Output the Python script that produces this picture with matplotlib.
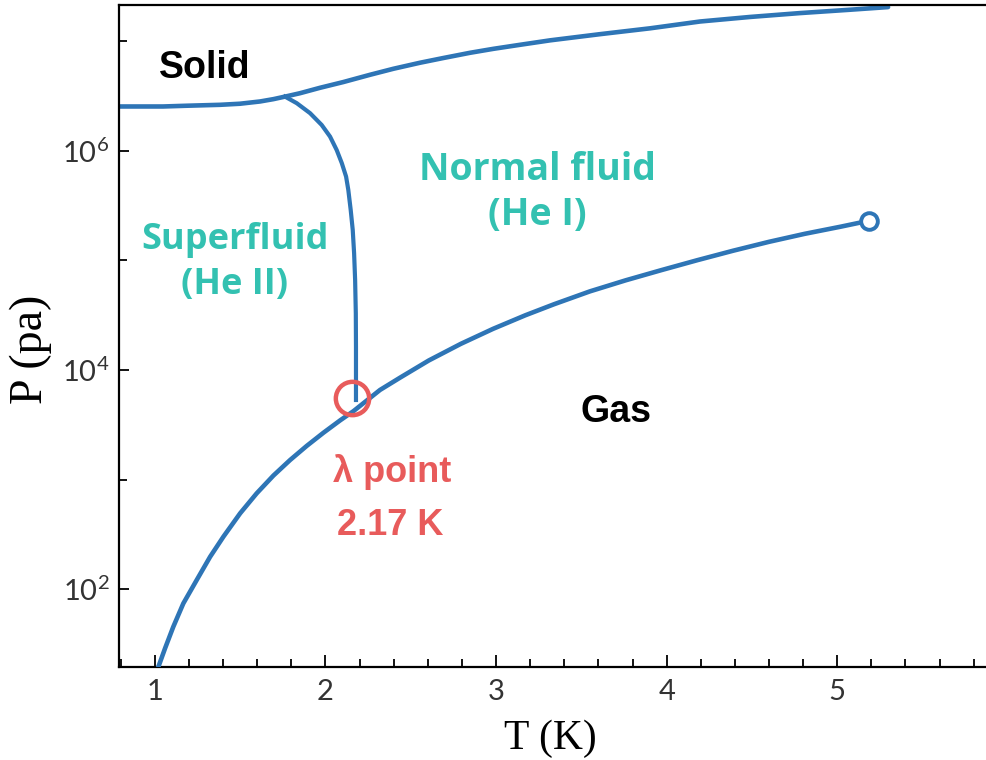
import matplotlib
matplotlib.use('Agg')
import matplotlib.pyplot as plt
from matplotlib.ticker import FixedLocator, NullFormatter, MultipleLocator

# Helium-4 phase diagram data
# melting curve (solid / liquid boundary)
melt_T = [0.797, 0.914, 1.048, 1.187, 1.382, 1.499, 1.617, 1.695, 1.763, 1.851, 1.968, 2.105, 2.261,
          2.398, 2.554, 2.691, 2.848, 2.984, 3.141, 3.317, 3.610, 3.903, 4.196, 4.489, 4.782, 5.075, 5.298]
melt_P = [2.52e6, 2.52e6, 2.52e6, 2.56e6, 2.61e6, 2.67e6, 2.80e6, 2.94e6, 3.10e6, 3.33e6, 3.73e6, 4.21e6, 4.90e6,
          5.56e6, 6.31e6, 6.97e6, 7.78e6, 8.45e6, 9.20e6, 1.01e7, 1.15e7, 1.30e7, 1.50e7, 1.65e7, 1.79e7, 1.92e7, 2.03e7]

# lambda line (He I / He II boundary)
lambda_T = [1.763, 1.832, 1.910, 1.978, 2.027, 2.066, 2.096, 2.121, 2.134, 2.148, 2.160, 2.168, 2.174, 2.178, 2.179, 2.179]
lambda_P = [3.10e6, 2.70e6, 2.19e6, 1.71e6, 1.34e6, 1.01e6, 7.67e5, 5.79e5, 4.38e5, 2.88e5, 1.89e5, 1.16e5,
            6.62e4, 3.29e4, 1.63e4, 5.32e3]

# saturated vapour pressure curve
vap_T = [1.021, 1.060, 1.108, 1.167, 1.246, 1.324, 1.402, 1.500, 1.597, 1.695, 1.793, 1.890, 1.988, 2.086,
         2.164, 2.320, 2.440, 2.606, 2.794, 2.983, 3.172, 3.340, 3.550, 3.760, 3.970, 4.179, 4.389, 4.599,
         4.809, 5.019, 5.186]
vap_P = [19.7, 29.0, 45.5, 74.4, 122, 198, 302, 493, 750, 1089, 1510, 2028, 2673, 3467,
         4207, 6570, 8550, 1.22e4, 1.73e4, 2.37e4, 3.15e4, 3.97e4, 5.20e4, 6.56e4, 8.13e4, 1.00e5, 1.22e5, 1.47e5,
         1.74e5, 2.02e5, 2.29e5]

lambda_point = (2.155, 5.6e3)
critical_point = (5.186, 2.29e5)

y_major = [1e2, 1e4, 1e6]
y_minor = [1e3, 1e5, 1e7]
y_labels = ['10$^{2}$', '10$^{4}$', '10$^{6}$']

blue = '#2E75B6'
teal = '#33C1B1'
red = '#E85B5B'

plt.rcParams['mathtext.fontset'] = 'custom'
plt.rcParams['mathtext.rm'] = 'Lato'
plt.rcParams['mathtext.it'] = 'Lato'

fig = plt.figure(figsize=(9.86, 7.6), dpi=100)
ax = fig.add_axes([0.1207, 0.1224, 0.8793, 0.8710])

ax.plot(melt_T, melt_P, color=blue, lw=3.3, solid_capstyle='round', solid_joinstyle='round')
ax.plot(lambda_T, lambda_P, color=blue, lw=3.0, solid_joinstyle='round')
ax.plot(vap_T, vap_P, color=blue, lw=3.3, zorder=3, solid_joinstyle='round')
ax.plot(*critical_point, 'o', ms=12, mfc='white', mec=blue, mew=2.8, zorder=4)
ax.plot(*lambda_point, 'o', ms=24, mfc='none', mec=red, mew=3.2, zorder=5)

ax.set_yscale('log')
ax.set_xlim(0.79, 5.872)
ax.set_ylim(19.6, 2.12e7)

ax.xaxis.set_major_locator(MultipleLocator(1))
ax.xaxis.set_minor_locator(MultipleLocator(0.2))
ax.yaxis.set_major_locator(FixedLocator(y_major))
ax.yaxis.set_minor_locator(FixedLocator(y_minor))
ax.yaxis.set_minor_formatter(NullFormatter())
ax.set_yticklabels(y_labels)

ax.tick_params(which='both', direction='in', width=1.3, colors='black')
ax.tick_params(axis='x', which='major', length=9, pad=9)
ax.tick_params(axis='x', which='minor', length=6)
ax.tick_params(axis='y', which='major', length=7, pad=7)
ax.tick_params(axis='y', which='minor', length=6)
for lab in ax.get_xticklabels() + ax.get_yticklabels():
    lab.set_fontfamily('Lato')
    lab.set_fontsize(21)
    lab.set_color('#333333')

ax.spines['right'].set_visible(False)
for s in ['left', 'bottom', 'top']:
    ax.spines[s].set_linewidth(1.6)

ax.set_xlabel('T (K)', fontfamily='Liberation Serif', fontsize=30, va='center')
ax.xaxis.set_label_coords(0.498, -0.108)
ax.set_ylabel('P (pa)', fontfamily='Liberation Serif', fontsize=33, ha='center', va='center')
ax.yaxis.set_label_coords(-0.102, 0.480)

# region labels
ax.text(1.294, 5.65e6, 'Solid', fontfamily='Liberation Sans', fontweight='bold', fontsize=27, ha='center', va='center')
ax.text(3.703, 4.12e3, 'Gas', fontfamily='Liberation Sans', fontweight='bold', fontsize=27, ha='center', va='center')
ax.text(3.240, 6.64e5, 'Normal fluid', fontfamily='Open Sans', fontweight='bold', fontsize=27, color=teal, ha='center', va='center')
ax.text(3.240, 2.58e5, '(He I)', fontfamily='Open Sans', fontweight='bold', fontsize=27, color=teal, ha='center', va='center')
ax.text(1.470, 1.53e5, 'Superfluid', fontfamily='Open Sans', fontweight='bold', fontsize=26, color=teal, ha='center', va='center')
ax.text(1.470, 5.93e4, '(He II)', fontfamily='Open Sans', fontweight='bold', fontsize=26, color=teal, ha='center', va='center')
ax.text(2.391, 1170, 'λ point', fontfamily='Liberation Sans', fontweight='bold', fontsize=26, color=red, ha='center', va='center')
ax.text(2.379, 384, '2.17 K', fontfamily='Liberation Sans', fontweight='bold', fontsize=26, color=red, ha='center', va='center')

fig.savefig('out.png', dpi=100)
